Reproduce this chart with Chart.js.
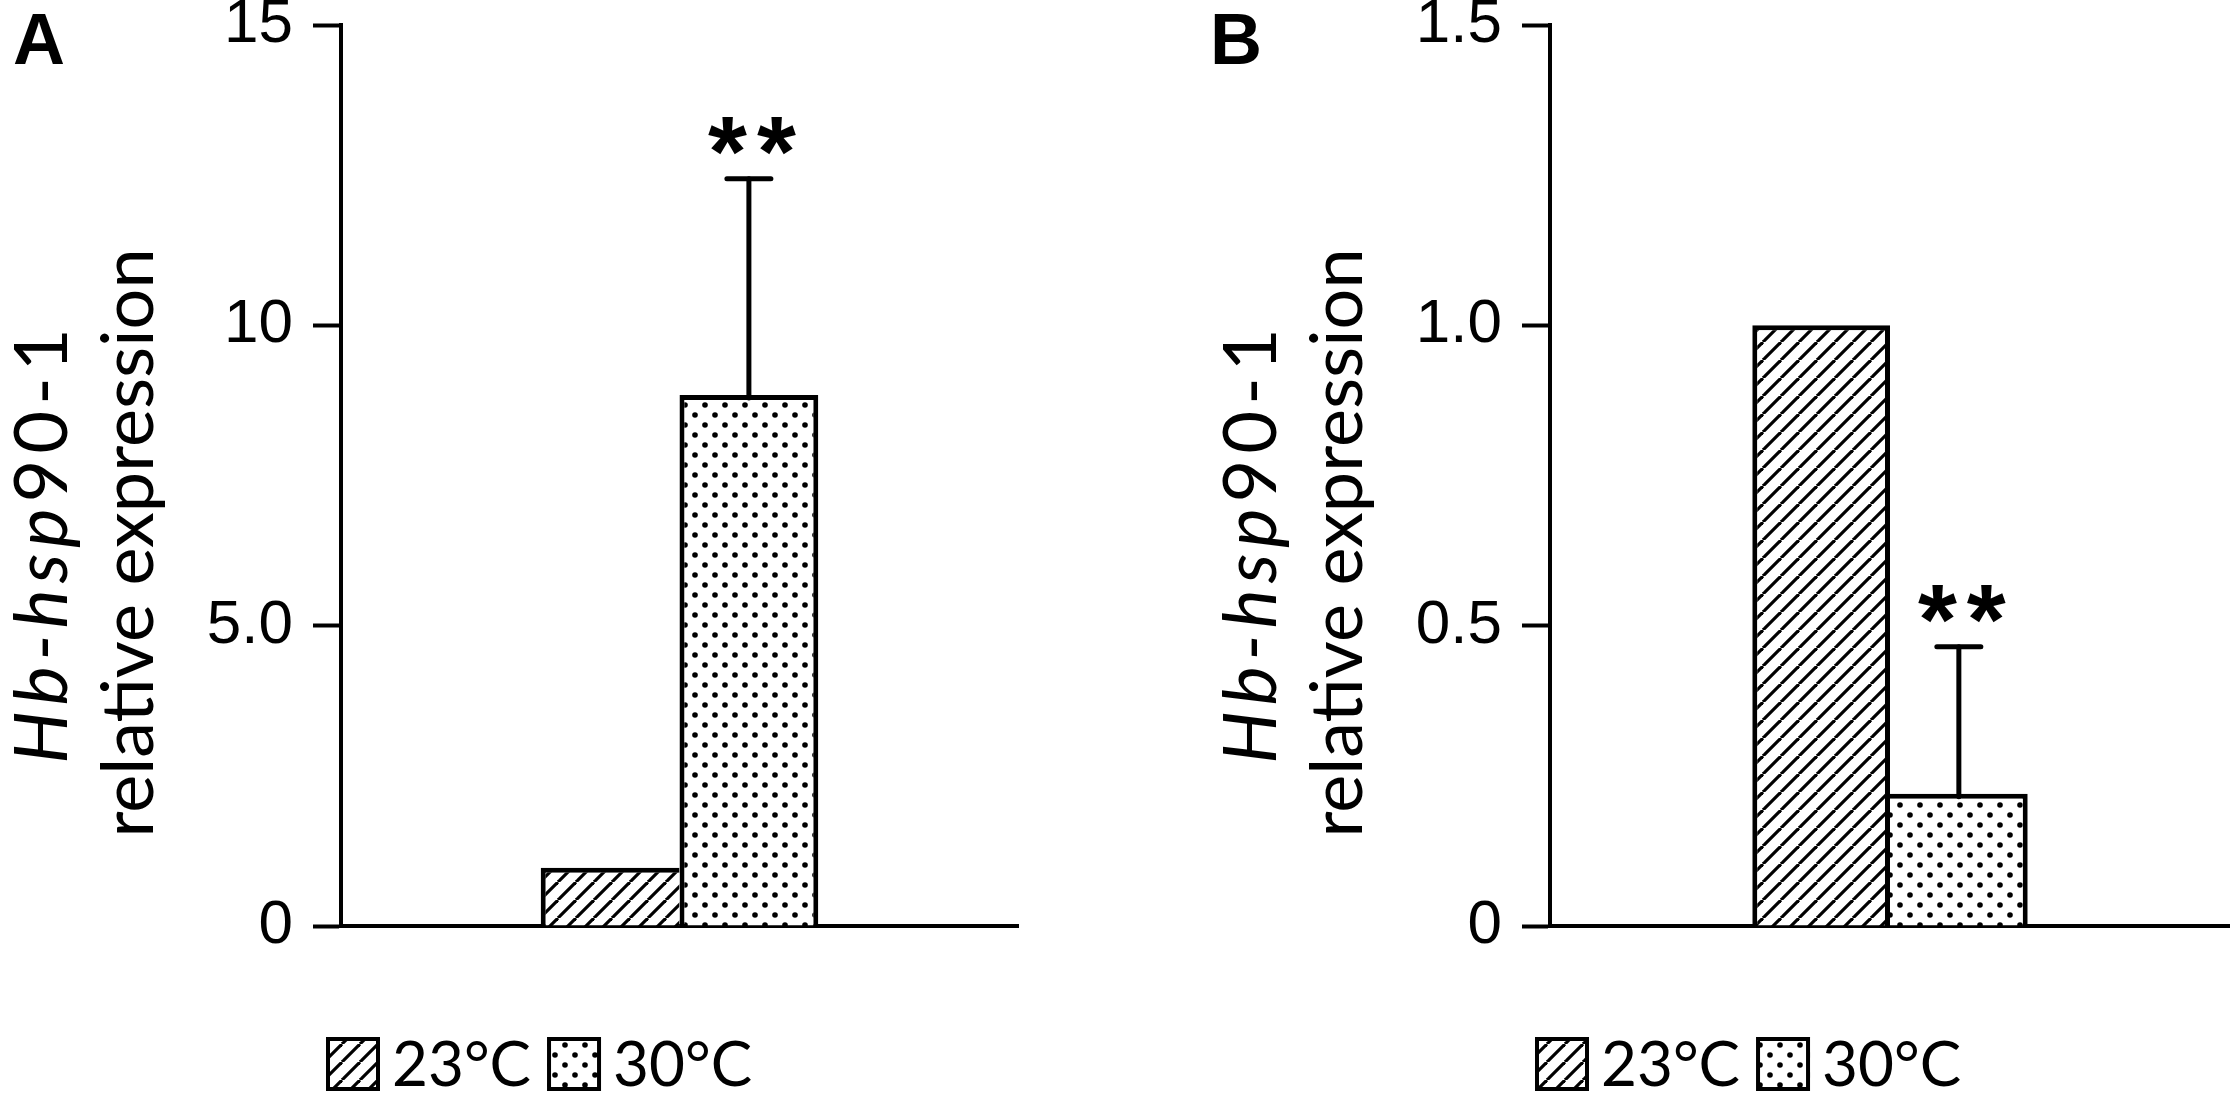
<!DOCTYPE html>
<html>
<head>
<meta charset="utf-8">
<script src="https://cdn.jsdelivr.net/npm/chart.js@4.4.1/dist/chart.umd.min.js"></script>
<style>
html,body{margin:0;padding:0;background:#fff;}
#wrap{position:relative;width:2230px;height:1101px;overflow:hidden;background:#fff;}
canvas{position:absolute;top:0;}
</style>
</head>
<body>
<div id="wrap">
<canvas id="cA" width="1115" height="1101" style="left:0;width:1115px;height:1101px;"></canvas>
<canvas id="cB" width="1115" height="1101" style="left:1115px;width:1115px;height:1101px;"></canvas>
</div>
<script>
// ---------- data ----------
const categories = [''];
const seriesLabels = ['23°C', '30°C'];
const panelLetters = ['A', 'B'];
const yTitleItalic = 'Hb-hsp';
const yTitleRest = '90-1';
const yTitleLine2 = 'relative expression';

const valuesA23 = [0.97];
const valuesA30 = [8.84];
const errorsA30 = [3.6];
const signifA30 = ['**'];

const valuesB23 = [1.0];
const valuesB30 = [0.22];
const errorsB30 = [0.245];
const signifB30 = ['**'];

const tickValuesA = [0, 5, 10, 15];
const tickLabelsA = ['0', '5.0', '10', '15'];
const tickValuesB = [0, 0.5, 1.0, 1.5];
const tickLabelsB = ['0', '0.5', '1.0', '1.5'];

// ---------- helpers ----------
const SANS = '"Liberation Sans", Arial, sans-serif';
const HUM = 'Lato, "Open Sans", sans-serif';

function hatchPattern(ctx) {
  const s = 18;
  const c = document.createElement('canvas');
  c.width = s; c.height = s;
  const g = c.getContext('2d');
  g.fillStyle = '#fff'; g.fillRect(0, 0, s, s);
  g.strokeStyle = '#000'; g.lineWidth = 3.2;
  for (const o of [-s, 0, s]) {
    g.beginPath(); g.moveTo(o, s); g.lineTo(o + s, 0); g.stroke();
  }
  return ctx.createPattern(c, 'repeat');
}
function dotPattern(ctx) {
  const s = 20;
  const c = document.createElement('canvas');
  c.width = s; c.height = s;
  const g = c.getContext('2d');
  g.fillStyle = '#fff'; g.fillRect(0, 0, s, s);
  g.fillStyle = '#000';
  for (const [x, y] of [[5, 5], [15, 15]]) {
    g.beginPath(); g.arc(x, y, 2.8, 0, Math.PI * 2); g.fill();
  }
  return ctx.createPattern(c, 'repeat');
}

function makeDecor(cfg) {
  return {
    id: 'decor' + cfg.letter,
    beforeDraw(chart) {
      const ctx = chart.ctx;
      ctx.save(); ctx.fillStyle = '#fff'; ctx.fillRect(0, 0, chart.width, chart.height); ctx.restore();
    },
    afterDatasetsDraw(chart) {
      const ctx = chart.ctx, y = chart.scales.y;
      chart.data.datasets.forEach((ds, di) => {
        if (!ds.errors) return;
        const meta = chart.getDatasetMeta(di);
        meta.data.forEach((bar, i) => {
          const e = ds.errors[i];
          if (e == null) return;
          const top = y.getPixelForValue(ds.data[i] + e);
          const x = bar.x;
          ctx.save();
          ctx.strokeStyle = '#000'; ctx.lineWidth = 5; ctx.lineCap = 'round';
          ctx.beginPath(); ctx.moveTo(x, bar.y + 3); ctx.lineTo(x, top); ctx.stroke();
          ctx.beginPath(); ctx.moveTo(x - 22, top); ctx.lineTo(x + 22, top); ctx.stroke();
          const s = ds.signif && ds.signif[i];
          if (s) {
            ctx.font = 'bold 100px ' + SANS;
            ctx.letterSpacing = '10px';
            ctx.fillStyle = '#000';
            ctx.textAlign = 'center'; ctx.textBaseline = 'alphabetic';
            const m = ctx.measureText(s);
            const cy = top - 43;
            const base = cy + (m.actualBoundingBoxAscent - m.actualBoundingBoxDescent) / 2;
            ctx.fillText(s, x + 8, base);
          }
          ctx.restore();
        });
      });
    },
    afterDraw(chart) {
      const ctx = chart.ctx, area = chart.chartArea;
      ctx.save();
      ctx.fillStyle = '#000';
      // panel letter
      ctx.font = 'bold 72px ' + SANS;
      ctx.textAlign = 'left'; ctx.textBaseline = 'alphabetic';
      ctx.fillText(cfg.letter, area.left + cfg.letterDx, 64);
      // y title (rotated, two lines)
      const cy = 543;
      ctx.save();
      ctx.translate(area.left - 298, cy);
      ctx.rotate(-Math.PI / 2);
      ctx.textBaseline = 'middle'; ctx.textAlign = 'left';
      ctx.letterSpacing = '6px';
      const fI = 'italic 74px ' + HUM, fR1 = '74px ' + HUM, fR = '72px ' + HUM;
      ctx.font = fI; const wI = ctx.measureText(yTitleItalic).width;
      ctx.font = fR1; const wR = ctx.measureText(yTitleRest).width;
      let sx = -(wI + wR) / 2;
      ctx.font = fI; ctx.fillText(yTitleItalic, sx, 0);
      ctx.font = fR1; ctx.fillText(yTitleRest, sx + wI, 0);
      ctx.restore();
      ctx.save();
      ctx.translate(area.left - 211, cy);
      ctx.rotate(-Math.PI / 2);
      ctx.textBaseline = 'middle'; ctx.textAlign = 'center';
      ctx.font = fR; ctx.fillText(yTitleLine2, 0, 0);
      ctx.restore();
      // legend
      const box = 54, ly = 1064;
      let x = area.left - 15;
      chart.data.datasets.forEach((ds) => {
        ctx.fillStyle = ds.backgroundColor;
        ctx.fillRect(x, ly - box / 2, box, box);
        ctx.strokeStyle = '#000'; ctx.lineWidth = 4;
        ctx.strokeRect(x + 2, ly - box / 2 + 2, box - 4, box - 4);
        x += box + 12;
        ctx.fillStyle = '#000';
        ctx.font = '62px ' + HUM;
        ctx.textAlign = 'left'; ctx.textBaseline = 'middle';
        ctx.fillText(ds.label, x, ly + 2);
        x += ctx.measureText(ds.label).width + 16;
      });
      ctx.restore();
    }
  };
}

function makeChart(id, cfg) {
  const ctx = document.getElementById(id).getContext('2d');
  return new Chart(ctx, {
    type: 'bar',
    data: {
      labels: categories,
      datasets: [
        { label: seriesLabels[0], data: cfg.v23, backgroundColor: hatchPattern(ctx),
          borderColor: '#000', borderWidth: cfg.bw23, borderSkipped: false },
        { label: seriesLabels[1], data: cfg.v30, errors: cfg.e30, signif: cfg.s30,
          backgroundColor: dotPattern(ctx), borderColor: '#000', borderWidth: cfg.bw30, borderSkipped: false }
      ]
    },
    options: {
      responsive: false, animation: false, devicePixelRatio: 1, events: [],
      layout: { padding: { left: 0, right: cfg.padRight, top: 25, bottom: 175 } },
      datasets: { bar: { categoryPercentage: cfg.catPct, barPercentage: 1 } },
      plugins: { legend: { display: false }, tooltip: { enabled: false }, title: { display: false } },
      scales: {
        x: {
          grid: { display: false }, ticks: { display: false },
          border: { display: true, color: '#000', width: 4 },
          afterFit(s) { s.height = 0; }
        },
        y: {
          min: 0, max: cfg.max,
          afterBuildTicks(s) { s.ticks = cfg.tickValues.map(v => ({ value: v })); },
          ticks: { callback: (v, i) => cfg.tickLabels[i], font: { family: 'Liberation Sans', size: 62 }, color: '#000', padding: 20 },
          grid: { display: true, drawOnChartArea: false, drawTicks: true, tickLength: 28, tickWidth: 4, tickColor: '#000' },
          border: { display: true, color: '#000', width: 4 },
          afterFit(s) { s.width = cfg.axisX; s.paddingTop = 0; s.paddingBottom = 0; }
        }
      }
    },
    plugins: [makeDecor(cfg)]
  });
}

makeChart('cA', {
  letter: panelLetters[0], letterDx: -328, max: 15,
  v23: valuesA23, v30: valuesA30, e30: errorsA30, s30: signifA30,
  tickValues: tickValuesA, tickLabels: tickLabelsA,
  axisX: 341, padRight: 97, catPct: 0.41,
  bw23: { top: 5, left: 5, right: 0, bottom: 0 },
  bw30: { top: 5, left: 5, right: 5, bottom: 0 }
});
makeChart('cB', {
  letter: panelLetters[1], letterDx: -340, max: 1.5,
  v23: valuesB23, v30: valuesB30, e30: errorsB30, s30: signifB30,
  tickValues: tickValuesB, tickLabels: tickLabelsB,
  axisX: 435, padRight: 0, catPct: 0.405,
  bw23: { top: 5, left: 5, right: 5, bottom: 0 },
  bw30: { top: 5, left: 0, right: 5, bottom: 0 }
});
</script>
</body>
</html>
